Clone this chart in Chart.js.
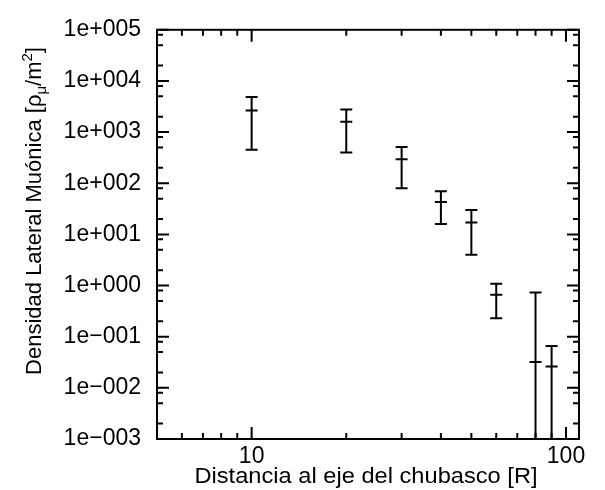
<!DOCTYPE html>
<html>
<head>
<meta charset="utf-8">
<script src="https://cdn.jsdelivr.net/npm/chart.js@4/dist/chart.umd.min.js"></script>
<style>
  html, body { margin: 0; padding: 0; background: #fff; }
</style>
</head>
<body>
<canvas id="densityChart" width="605" height="490"></canvas>
<script>
// Distancia al eje (R) y densidad lateral de muones con su error
const distances = [10, 20, 30, 40, 50, 60, 80, 90];
const density = [2650, 1590, 295, 43, 17, 0.66, 0.032, 0.026];
const densityErr = [2200, 1190, 215, 27, 13, 0.43, 0.70, 0.040];

// Marcas de los ejes
const xTickValues = [10, 100];
const xMinorTicks = [6, 7, 8, 9, 20, 30, 40, 50, 60, 70, 80, 90];
const yTickValues = [1e-3, 1e-2, 1e-1, 1e0, 1e1, 1e2, 1e3, 1e4, 1e5];
const yMinorFactors = [2, 5, 8];

const FONT = "'Liberation Sans', Arial, Helvetica, sans-serif";
const TICK_SIZE = 23;
const TITLE_SIZE = 22;

function expLabel(v) {
    const e = Math.round(Math.log10(v));
    const sign = e < 0 ? '\u2212' : '+';
    return '1e' + sign + String(Math.abs(e)).padStart(3, '0');
}

// Marco, marcas hacia dentro, barras de error y títulos
const framePlugin = {
    id: 'framePlugin',
    afterDatasetsDraw(chart) {
        const ctx = chart.ctx;
        const area = chart.chartArea;
        const xs = chart.scales.x;
        const ys = chart.scales.y;
        ctx.save();
        ctx.strokeStyle = '#000';
        ctx.lineWidth = 2;

        // barras de error
        ctx.beginPath();
        distances.forEach(function(d, i) {
            const px = xs.getPixelForValue(d);
            const hi = density[i] + densityErr[i];
            const lo = density[i] - densityErr[i];
            let pyHi = ys.getPixelForValue(hi);
            let pyLo = lo > 0 ? ys.getPixelForValue(lo) : area.bottom;
            pyHi = Math.max(pyHi, area.top);
            pyLo = Math.min(pyLo, area.bottom);
            ctx.moveTo(px, pyHi);
            ctx.lineTo(px, pyLo);
            if (hi < ys.max) {
                ctx.moveTo(px - 6, pyHi);
                ctx.lineTo(px + 6, pyHi);
            }
            if (lo > 0) {
                ctx.moveTo(px - 6, pyLo);
                ctx.lineTo(px + 6, pyLo);
            }
        });
        ctx.stroke();

        // marcas del eje y (izquierda y derecha)
        ctx.beginPath();
        yTickValues.forEach(function(v) {
            const py = ys.getPixelForValue(v);
            ctx.moveTo(area.left, py); ctx.lineTo(area.left + 12, py);
            ctx.moveTo(area.right, py); ctx.lineTo(area.right - 12, py);
            if (v < ys.max) {
                yMinorFactors.forEach(function(f) {
                    const pm = ys.getPixelForValue(v * f);
                    ctx.moveTo(area.left, pm); ctx.lineTo(area.left + 6, pm);
                    ctx.moveTo(area.right, pm); ctx.lineTo(area.right - 6, pm);
                });
            }
        });
        // marcas del eje x (abajo y arriba)
        xTickValues.forEach(function(v) {
            const px = xs.getPixelForValue(v);
            ctx.moveTo(px, area.bottom); ctx.lineTo(px, area.bottom - 12);
            ctx.moveTo(px, area.top); ctx.lineTo(px, area.top + 12);
        });
        xMinorTicks.forEach(function(v) {
            const px = xs.getPixelForValue(v);
            ctx.moveTo(px, area.bottom); ctx.lineTo(px, area.bottom - 6);
            ctx.moveTo(px, area.top); ctx.lineTo(px, area.top + 6);
        });
        ctx.stroke();

        // marco
        ctx.strokeRect(area.left, area.top, area.right - area.left, area.bottom - area.top);

        // título del eje x (algo ensanchado)
        ctx.fillStyle = '#000';
        ctx.save();
        ctx.font = '21.5px ' + FONT;
        ctx.textAlign = 'center';
        ctx.textBaseline = 'alphabetic';
        ctx.translate((area.left + area.right) / 2 - 2, 483);
        ctx.scale(1.1, 1);
        ctx.fillText('Distancia al eje del chubasco [R]', 0, 0);
        ctx.restore();

        // título del eje y, con subíndice y superíndice
        const parts = [
            { t: 'Densidad Lateral Muónica [\u03c1', size: TITLE_SIZE, dy: 0 },
            { t: '\u03bc', size: 15, dy: 5 },
            { t: '/m', size: TITLE_SIZE, dy: 0 },
            { t: '2', size: 15, dy: -9 },
            { t: ']', size: TITLE_SIZE, dy: 0 }
        ];
        let total = 0;
        parts.forEach(function(p) {
            ctx.font = p.size + 'px ' + FONT;
            p.w = ctx.measureText(p.t).width;
            total += p.w;
        });
        ctx.translate(41, 211);
        ctx.rotate(-Math.PI / 2);
        ctx.textAlign = 'left';
        let cx = -total / 2;
        parts.forEach(function(p) {
            ctx.font = p.size + 'px ' + FONT;
            ctx.fillText(p.t, cx, p.dy);
            cx += p.w;
        });
        ctx.restore();
    }
};

const ctx = document.getElementById('densityChart').getContext('2d');
const densityChart = new Chart(ctx, {
    type: 'scatter',
    data: {
        datasets: [{
            label: 'Densidad',
            data: distances.map(function(d, i) { return { x: d, y: density[i] }; }),
            pointStyle: 'line',
            pointRadius: 6,
            pointHoverRadius: 6,
            borderColor: '#000',
            backgroundColor: '#000',
            borderWidth: 2
        }]
    },
    options: {
        responsive: false,
        animation: false,
        devicePixelRatio: 1,
        layout: { padding: { top: 17, right: 26, left: 0, bottom: 0 } },
        plugins: {
            legend: { display: false },
            tooltip: { enabled: false }
        },
        scales: {
            x: {
                type: 'logarithmic',
                position: 'bottom',
                min: 5,
                max: 110,
                bounds: 'data',
                grid: { display: false, drawTicks: false },
                border: { display: false },
                ticks: {
                    color: '#000',
                    font: { family: FONT, size: TICK_SIZE },
                    padding: 4,
                    maxRotation: 0,
                    autoSkip: false,
                    callback: function(v) { return String(v); }
                },
                afterBuildTicks: function(scale) {
                    scale.ticks = xTickValues.map(function(v) { return { value: v }; });
                },
                afterFit: function(scale) { scale.height = 51; }
            },
            y: {
                type: 'logarithmic',
                position: 'left',
                min: 1e-3,
                max: 1e5,
                bounds: 'data',
                grid: { display: false, drawTicks: false },
                border: { display: false },
                ticks: {
                    color: '#000',
                    font: { family: FONT, size: TICK_SIZE },
                    padding: 16,
                    autoSkip: false,
                    callback: function(v) { return expLabel(v); }
                },
                afterBuildTicks: function(scale) {
                    scale.ticks = yTickValues.map(function(v) { return { value: v }; });
                },
                afterFit: function(scale) { scale.width = 157; }
            }
        }
    },
    plugins: [framePlugin]
});
</script>
</body>
</html>
